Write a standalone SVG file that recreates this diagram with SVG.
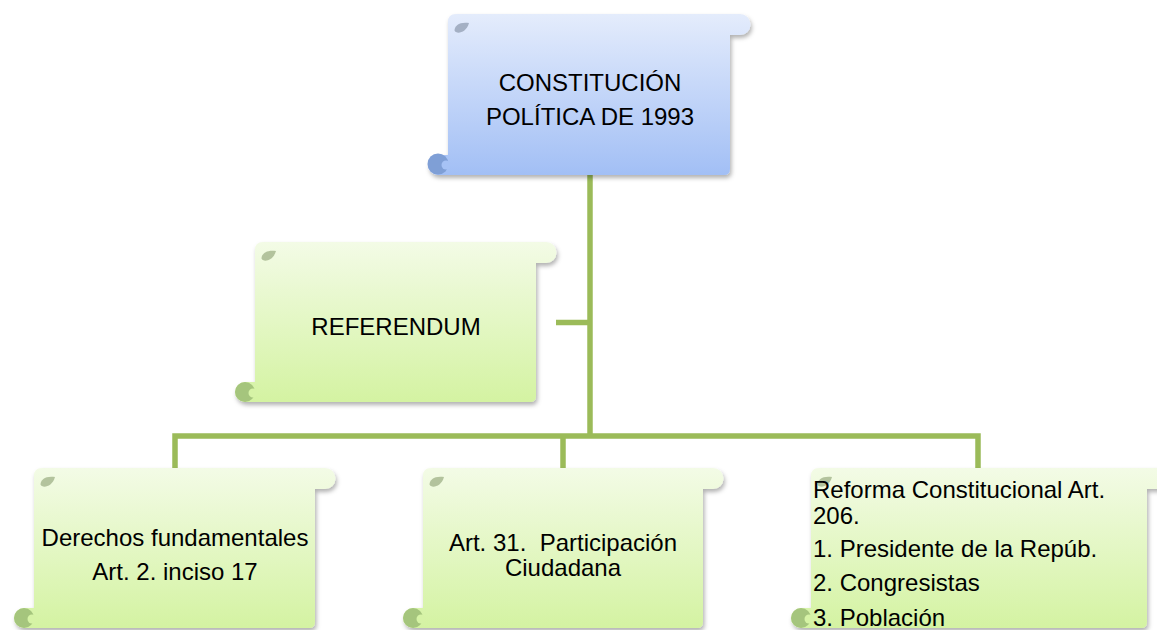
<svg xmlns="http://www.w3.org/2000/svg" width="1157" height="630" viewBox="0 0 1157 630">
  <defs>
    <linearGradient id="gBlue" x1="0" y1="0" x2="0" y2="1">
      <stop offset="0" stop-color="#e4ecfc"/>
      <stop offset="1" stop-color="#a2bff5"/>
    </linearGradient>
    <linearGradient id="gGreen" x1="0" y1="0" x2="0" y2="1">
      <stop offset="0" stop-color="#f3fbe6"/>
      <stop offset="1" stop-color="#d4f3a2"/>
    </linearGradient>
    <filter id="shadow" x="-10%" y="-10%" width="125%" height="130%">
      <feDropShadow dx="1.5" dy="3" stdDeviation="2" flood-color="#000" flood-opacity="0.3"/>
    </filter>
  </defs>
  <style>
    .conn { fill: none; stroke: #9bbb59; stroke-width: 5.5; stroke-linecap: butt; stroke-linejoin: miter; }
    .blue { fill: url(#gBlue); filter: url(#shadow); }
    .green { fill: url(#gGreen); filter: url(#shadow); }
    .tearB { fill: #a4b0c4; }
    .curlB { fill: #7f9fd6; }
    .notchB { fill: #a6c2f5; }
    .tearG { fill: #b3c39d; }
    .curlG { fill: #a5c57d; }
    .notchG { fill: #d6f3a6; }
    text { font-family: "Liberation Sans", Arial, sans-serif; font-size: 24px; fill: #000; }
    .c { text-anchor: middle; }
  </style>

  <g id="connectors">
    <path class="conn" d="M590,175 V436"/>
    <path class="conn" d="M556,322.5 H590"/>
    <path class="conn" d="M175,470 V436 H978 V470"/>
    <path class="conn" d="M563,436 V470"/>
  </g>

  <g id="node-constitucion" transform="translate(448,14)">
    <path class="blue" d="M8,0 H292 A10.5,10.5 0 0 1 292,21 H282 V155 Q282,161 276,161 H-10 A10,10 0 0 1 -10,141 H0 V8 Q0,0 8,0 Z"/>
    <path class="tearB" d="M21,9 C12,7.5 6.5,11.5 6.5,16.5 C8,20.5 18,19.5 21,9 Z"/>
    <circle class="curlB" cx="-10" cy="150" r="10.5"/>
    <circle class="notchB" cx="-2" cy="151" r="4.5"/>
    <text class="c" x="142" y="77">CONSTITUCIÓN</text>
    <text class="c" x="142" y="111">POLÍTICA DE 1993</text>
  </g>

  <g id="node-referendum" transform="translate(255,242)">
    <path class="green" d="M8,0 H291 A10.5,10.5 0 0 1 291,21 H281 V154 Q281,160 275,160 H-10 A10,10 0 0 1 -10,140 H0 V8 Q0,0 8,0 Z"/>
    <path class="tearG" d="M21,9 C12,7.5 6.5,11.5 6.5,16.5 C8,20.5 18,19.5 21,9 Z"/>
    <circle class="curlG" cx="-10" cy="150" r="10"/>
    <circle class="notchG" cx="-2" cy="151" r="4.5"/>
    <text class="c" x="141" y="93">REFERENDUM</text>
  </g>

  <g id="node-derechos" transform="translate(34,468)">
    <path class="green" d="M8,0 H291 A10.5,10.5 0 0 1 291,21 H281 V154 Q281,160 275,160 H-10 A10,10 0 0 1 -10,140 H0 V8 Q0,0 8,0 Z"/>
    <path class="tearG" d="M21,9 C12,7.5 6.5,11.5 6.5,16.5 C8,20.5 18,19.5 21,9 Z"/>
    <circle class="curlG" cx="-10" cy="150" r="10"/>
    <circle class="notchG" cx="-2" cy="151" r="4.5"/>
    <text class="c" x="141" y="78">Derechos fundamentales</text>
    <text class="c" x="141" y="112">Art. 2. inciso 17</text>
  </g>

  <g id="node-art31" transform="translate(423,468)">
    <path class="green" d="M8,0 H290 A10.5,10.5 0 0 1 290,21 H280 V154 Q280,160 274,160 H-10 A10,10 0 0 1 -10,140 H0 V8 Q0,0 8,0 Z"/>
    <path class="tearG" d="M21,9 C12,7.5 6.5,11.5 6.5,16.5 C8,20.5 18,19.5 21,9 Z"/>
    <circle class="curlG" cx="-10" cy="150" r="10"/>
    <circle class="notchG" cx="-2" cy="151" r="4.5"/>
    <text class="c" x="140" y="83" xml:space="preserve">Art. 31.  Participación</text>
    <text class="c" x="140" y="108">Ciudadana</text>
  </g>

  <g id="node-reforma" transform="translate(811,468)">
    <path class="green" d="M8,0 H346 A10.5,10.5 0 0 1 346,21 H336 V154 Q336,160 330,160 H-10 A10,10 0 0 1 -10,140 H0 V8 Q0,0 8,0 Z"/>
    <path class="tearG" d="M21,9 C12,7.5 6.5,11.5 6.5,16.5 C8,20.5 18,19.5 21,9 Z"/>
    <circle class="curlG" cx="-10" cy="150" r="10"/>
    <circle class="notchG" cx="-2" cy="151" r="4.5"/>
    <text x="2" y="30">Reforma Constitucional Art.</text>
    <text x="2" y="56">206.</text>
    <text x="2" y="89">1. Presidente de la Repúb.</text>
    <text x="2" y="123">2. Congresistas</text>
    <text x="2" y="158">3. Población</text>
  </g>
</svg>
